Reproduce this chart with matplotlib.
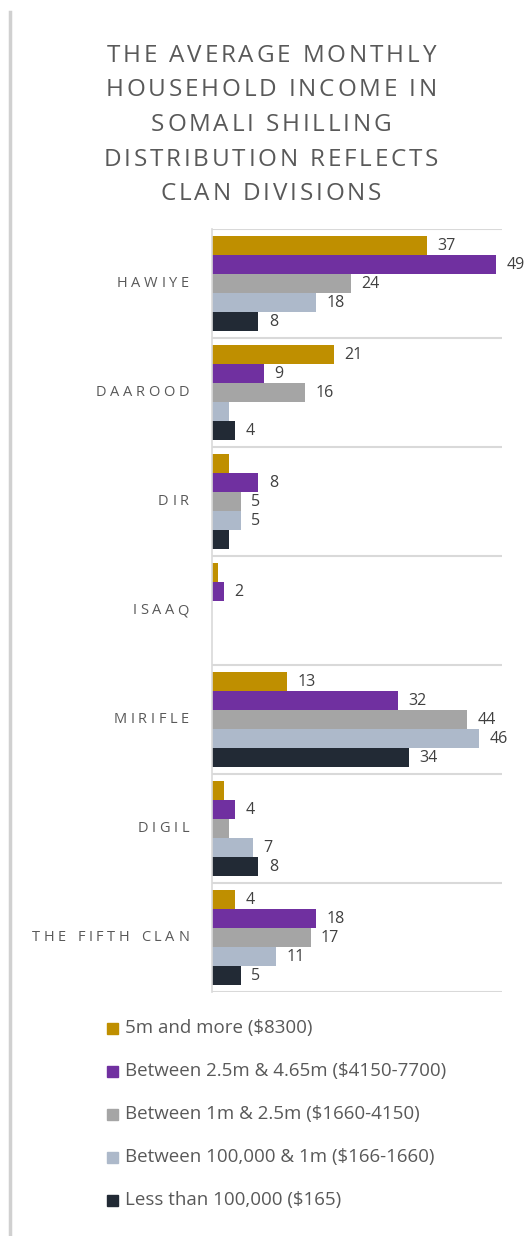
import numpy as np
from matplotlib import pyplot as plt
from matplotlib.lines import Line2D
from matplotlib.patches import Rectangle
from matplotlib.font_manager import FontProperties

# data
clans = ["HAWIYE", "DAAROOD", "DIR", "ISAAQ", "MIRIFLE", "DIGIL", "THE FIFTH CLAN"]
series = [
    "5m and more ($8300)",
    "Between 2.5m & 4.65m ($4150-7700)",
    "Between 1m & 2.5m ($1660-4150)",
    "Between 100,000 & 1m ($166-1660)",
    "Less than 100,000 ($165)",
]
gold = [37, 21, 3, 1, 13, 2, 4]
purple = [49, 9, 8, 2, 32, 4, 18]
grey = [24, 16, 5, 0, 44, 3, 17]
lightblue = [18, 3, 5, 0, 46, 7, 11]
dark = [8, 4, 3, 0, 34, 8, 5]
# which values carry a data label in the original
shown = [
    [1, 1, 0, 0, 1, 0, 1],
    [1, 1, 1, 1, 1, 1, 1],
    [1, 1, 1, 0, 1, 0, 1],
    [1, 0, 1, 0, 1, 1, 1],
    [1, 1, 0, 0, 1, 1, 1],
]
title = ["THE AVERAGE MONTHLY", "HOUSEHOLD INCOME IN", "SOMALI SHILLING",
         "DISTRIBUTION REFLECTS", "CLAN DIVISIONS"]

colors = ["#BF8F00", "#7030A0", "#A5A5A5", "#ADB9CA", "#222A35"]
values = [gold, purple, grey, lightblue, dark]

W, H = 525, 1236
fig = plt.figure(figsize=(W / 100, H / 100), dpi=100)
fig.patch.set_facecolor("white")
renderer = fig.canvas.get_renderer()


def text_width(s, prop):
    # pixel width of a string, measured with a trailing marker so spaces count
    w1, _, _ = renderer.get_text_width_height_descent(s + "X", prop, ismath=False)
    w0, _, _ = renderer.get_text_width_height_descent("X", prop, ismath=False)
    return w1 - w0


def tracked_text(x, y, s, size, track, ha="center", color="#595959"):
    """draw letter-spaced text, x/y in pixels from top-left"""
    prop = FontProperties(family="Open Sans", size=size)
    total = text_width(s, prop) + track * (len(s) - 1)
    x0 = x - total / 2 if ha == "center" else x - total
    for i, ch in enumerate(s):
        if ch == " ":
            continue
        xi = x0 + text_width(s[:i], prop) + track * i
        fig.text(xi / W, 1 - y / H, ch, ha="left", va="center",
                 fontproperties=prop, color=color)


ax = fig.add_axes([212 / W, 1 - 992 / H, (502 - 212) / W, (992 - 229) / H])

bh = 19 / 109
y = np.arange(len(clans))
for k, (vals, c) in enumerate(zip(values, colors)):
    pos = y + (k - 2) * bh
    ax.barh(pos, vals, height=bh, color=c, linewidth=0)
    for p, v, s in zip(pos, vals, shown[k]):
        if s:
            ax.text(v + 1.8, p, str(v), va="center", ha="left",
                    fontsize=11.5, color="#404040", family="Open Sans")

ax.set_xlim(0, 50)
ax.set_ylim(len(clans) - 0.5, -0.5)
ax.set_xticks([])
ax.set_yticks([])
for sp in ["top", "right", "bottom"]:
    ax.spines[sp].set_visible(False)
ax.spines["left"].set_color("#D9D9D9")
ax.spines["left"].set_linewidth(1.2)
# horizontal separators between clans
for b in np.arange(-0.5, len(clans), 1.0):
    ax.axhline(b, color="#D9D9D9", linewidth=1.5, zorder=0)

# clan labels, letter-spaced like the original
for i, name in enumerate(clans):
    tracked_text(189, 229 + 109 * (i + 0.5), name, 10.5, 3.7, ha="right")

# title
for i, line in enumerate(title):
    tracked_text(271, 56 + i * 34.5, line, 17.5, 2.8)

# legend
for i, (lab, c) in enumerate(zip(series, colors)):
    yy = 1028 + i * 43
    fig.add_artist(Rectangle((107 / W, 1 - (yy + 6) / H), 11 / W, 11 / H,
                             transform=fig.transFigure, color=c))
    fig.text(125 / W, 1 - yy / H, lab, ha="left", va="center", fontsize=13.5,
             color="#595959", family="Open Sans")

# left edge shadow of the card
fig.add_artist(Line2D([10 / W, 10 / W], [0, 1 - 12 / H], transform=fig.transFigure,
                      color="#D0D0D0", linewidth=2.5))

fig.savefig("out.png", dpi=100, facecolor="white")
